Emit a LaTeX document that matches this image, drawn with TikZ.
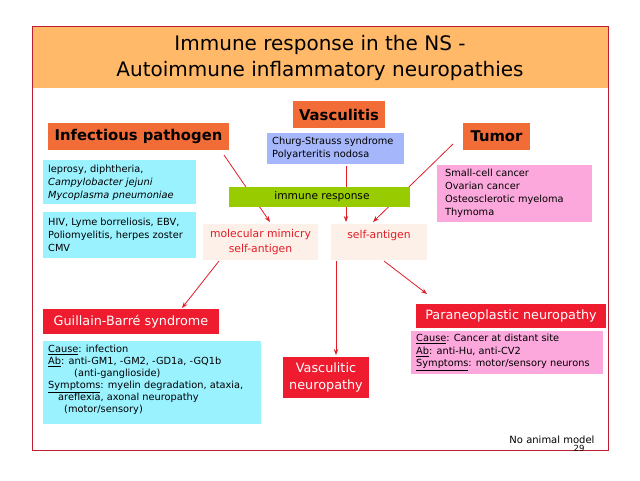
\documentclass[tikz,border=0pt]{standalone}
\usepackage{fontspec}
\setmainfont{DejaVu Sans}
\usetikzlibrary{arrows.meta}
\definecolor{frameR}{RGB}{190,30,45}
\definecolor{titleO}{RGB}{255,185,105}
\definecolor{headO}{RGB}{242,108,56}
\definecolor{cyanB}{RGB}{155,242,255}
\definecolor{pinkB}{RGB}{252,168,220}
\definecolor{blueB}{RGB}{165,182,250}
\definecolor{greenB}{RGB}{153,204,0}
\definecolor{peachB}{RGB}{253,240,232}
\definecolor{redB}{RGB}{238,28,46}
\definecolor{arrR}{RGB}{225,30,40}
\tikzset{
  head/.style={fill=headO, font=\bfseries\fontsize{14.8}{16}\selectfont, text=black, inner sep=0pt, minimum height=27pt},
  info/.style={inner sep=0pt, font=\fontsize{9.8}{13}\selectfont, align=left, text=black},
  redbox/.style={fill=redB, text=white, inner sep=0pt, font=\fontsize{12.8}{17}\selectfont, align=center},
  peach/.style={fill=peachB, text=arrR, inner sep=0pt, font=\fontsize{10.8}{15.5}\selectfont, align=center},
  conn/.style={draw=arrR, line width=0.8pt, -{Stealth[length=6pt,width=4.5pt]}},
}
\begin{document}
\begin{tikzpicture}[x=1pt,y=-1pt]
\useasboundingbox (0,0) rectangle (640,480);
\fill[white] (0,0) rectangle (640,480);
% frame and title band
\fill[titleO] (32,26) rectangle (608,88);
\draw[frameR, line width=1pt] (32,26) rectangle (608,450);
\node[font=\fontsize{20}{26}\selectfont, align=center] (title) at (320,58) {Immune response in the NS -\\Autoimmune inflammatory neuropathies};

% coordinates for connector ends
\coordinate (a1) at (224,155);
\coordinate (a1e) at (270,222);
\coordinate (a2) at (346,166);
\coordinate (a2e) at (346,222);
\coordinate (a3) at (453,144);
\coordinate (a3e) at (373,222);
\coordinate (b1) at (219,261);
\coordinate (b1e) at (182,308);
\coordinate (b2) at (336,261);
\coordinate (b2e) at (336,355);
\coordinate (b3) at (384,261);
\coordinate (b3e) at (427,294);

\draw[conn] (a1) -- (a1e);
\draw[conn] (a2) -- (a2e);
\draw[conn] (a3) -- (a3e);
\draw[conn] (b1) -- (b1e);
\draw[conn] (b2) -- (b2e);
\draw[conn] (b3) -- (b3e);

% headings
\node[head, minimum width=92pt] (vasc) at (339,114.5) {Vasculitis};
\node[head, minimum width=181pt] (infp) at (138.5,136.5) {Infectious pathogen};
\node[head, minimum width=67pt] (tumor) at (496.5,136.5) {Tumor};

% info boxes
\node[fill=blueB, minimum width=137pt, minimum height=31pt, inner sep=0pt] (churg) at (335.5,148.5) {};
\node[info, anchor=west] (churgt) at (272,148.5) {Churg-Strauss syndrome\\Polyarteritis nodosa};

\node[fill=cyanB, minimum width=153pt, minimum height=44pt, inner sep=0pt] (cy1) at (119.5,182) {};
\node[info, anchor=west] (cy1t) at (48,182.5) {leprosy, diphtheria,\\\textit{Campylobacter jejuni}\\\textit{Mycoplasma pneumoniae}};

\node[fill=cyanB, minimum width=153pt, minimum height=46pt, inner sep=0pt] (cy2) at (119.5,235) {};
\node[info, anchor=west] (cy2t) at (48,235) {HIV, Lyme borreliosis, EBV,\\Poliomyelitis, herpes zoster\\CMV};

\node[fill=pinkB, minimum width=155pt, minimum height=57pt, inner sep=0pt] (tp) at (514.5,193.5) {};
\node[info, anchor=west] (tpt) at (445,193.5) {Small-cell cancer\\Ovarian cancer\\Osteosclerotic myeloma\\Thymoma};

\node[fill=greenB, minimum width=181pt, minimum height=20pt, inner sep=0pt, font=\fontsize{10.6}{12}\selectfont] (immune) at (319.5,197) {\hspace*{5pt}immune response};

\node[peach, minimum width=115pt, minimum height=36pt] (molmim) at (260.5,242) {molecular mimicry\\self-antigen};
\node[peach, minimum width=96pt, minimum height=36pt] (selfag) at (379,242) {self-antigen\\\phantom{x}};

% bottom
\node[redbox, minimum width=176pt, minimum height=25pt] (gbs) at (131,321.5) {Guillain-Barré syndrome};
\node[fill=cyanB, minimum width=218pt, minimum height=83pt, inner sep=0pt] (gc) at (152,382.5) {};
\node[info, anchor=west, font=\fontsize{9.8}{12}\selectfont] (gct) at (48,380) {\underline{Cause}: infection\\\underline{Ab}: anti-GM1, -GM2, -GD1a, -GQ1b\\\hspace*{26pt}(anti-ganglioside)\\\underline{Symptoms}: myelin degradation, ataxia,\\\hspace*{10pt}areflexia, axonal neuropathy\\\hspace*{16pt}(motor/sensory)};

\node[redbox, minimum width=86pt, minimum height=41pt] (vn) at (326,377.5) {Vasculitic\\neuropathy};

\node[redbox, minimum width=190pt, minimum height=24pt] (pn) at (511,316) {Paraneoplastic neuropathy};
\node[fill=pinkB, minimum width=192pt, minimum height=43pt, inner sep=0pt] (pp) at (507,352.5) {};
\node[info, anchor=west, font=\fontsize{9.8}{12.5}\selectfont] (ppt) at (416,352.5) {\underline{Cause}: Cancer at distant site\\\underline{Ab}: anti-Hu, anti-CV2\\\underline{Symptoms}: motor/sensory neurons};

\node[font=\fontsize{10}{12}\selectfont, anchor=east] (nam) at (598,440) {No animal model};
\node[font=\fontsize{8.5}{10}\selectfont] (pg) at (579,448) {29};
\end{tikzpicture}
\end{document}
